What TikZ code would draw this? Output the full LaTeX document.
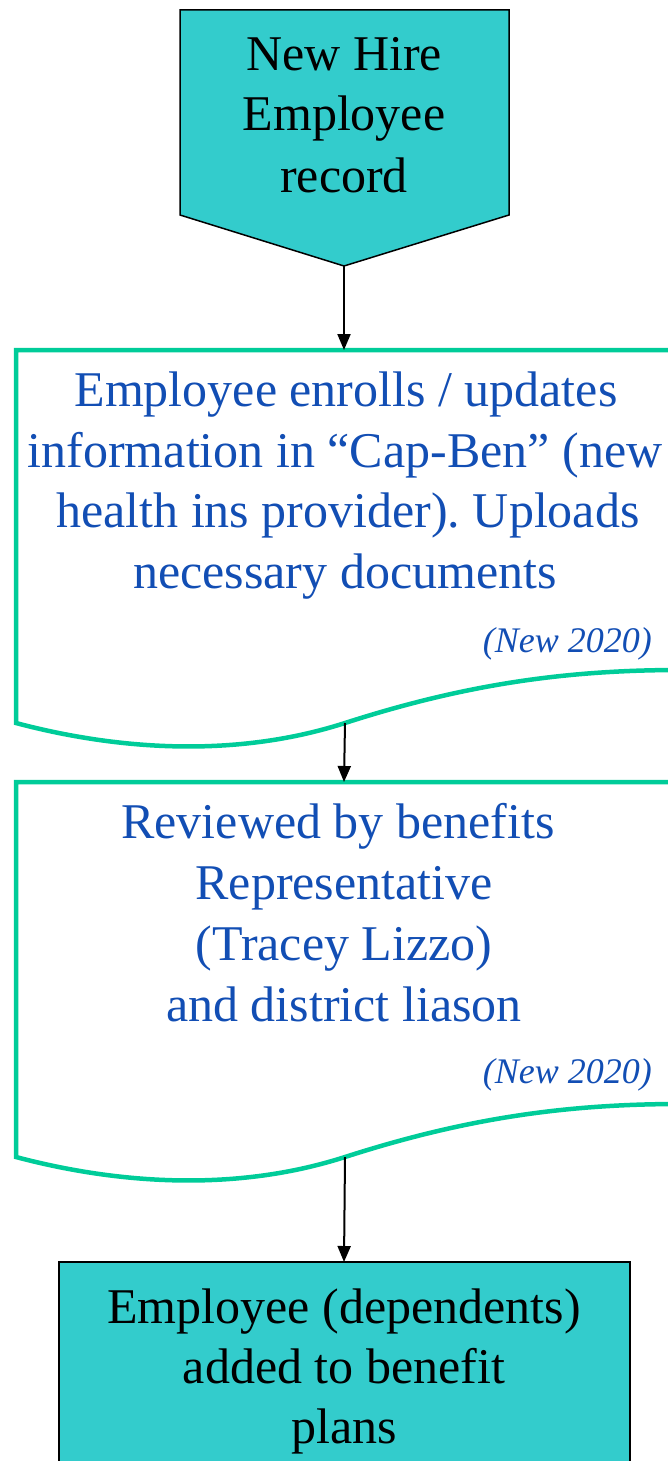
\documentclass[tikz,border=0pt]{standalone}
\usepackage{fontspec}
\setmainfont{Liberation Serif}
\frenchspacing
\usetikzlibrary{arrows.meta}
\definecolor{tealfill}{RGB}{51,204,204}
\definecolor{docgreen}{RGB}{0,204,153}
\definecolor{txtblue}{RGB}{18,78,180}
\begin{document}
\begin{tikzpicture}[x=1pt,y=-1pt,
  bigtext/.style={font=\fontsize{50}{60}\selectfont, anchor=base, inner sep=0pt},
  bluetext/.style={bigtext, text=txtblue},
  notetext/.style={font=\fontsize{36}{40}\selectfont\itshape, text=txtblue, anchor=base east, inner sep=0pt},
  tealshape/.style={fill=tealfill, draw=black, line width=1.5pt},
  docline/.style={draw=docgreen, line width=4.5pt},
  flow/.style={draw=black, line width=2pt, -{Triangle[length=16pt,width=13pt]}}]
\useasboundingbox (0,0) rectangle (667,1461);

% start pentagon
\draw[tealshape] (180,10) -- (509,10) -- (509,215) -- (344,266) -- (180,215) -- cycle;
\coordinate (penttip) at (344,266);
\node[bigtext] (n1a) at (344,71) {New Hire};
\node[bigtext] (n1b) at (344,131) {Employee};
\node[bigtext] (n1c) at (344,192) {record};

% document 1
\draw[docline] (680,350) -- (16,350) -- (16,723)
  .. controls (110,748) and (230,760) .. (345,723)
  .. controls (460,686) and (560,670) .. (680,670);
\coordinate (d1top) at (344,350);
\coordinate (d1bot) at (345,723);
\node[bluetext] (n2a) at (346,406) {Employee enrolls / updates};
\node[bluetext] (n2b) at (345,467) {information in “Cap-Ben” (new};
\node[bluetext] (n2c) at (348,527) {health ins provider). Uploads};
\node[bluetext] (n2d) at (345,588) {necessary documents};
\node[notetext] (n2e) at (652,652) {(New 2020)};

% document 2
\draw[docline] (680,782) -- (16,782) -- (16,1157)
  .. controls (110,1182) and (230,1194) .. (345,1157)
  .. controls (460,1120) and (560,1104) .. (680,1104);
\coordinate (d2top) at (344,782);
\coordinate (d2bot) at (345,1157);
\node[bluetext] (n3a) at (338,838) {Reviewed by benefits};
\node[bluetext] (n3b) at (344,899) {Representative};
\node[bluetext] (n3c) at (344,960) {(Tracey Lizzo)};
\node[bluetext] (n3d) at (344,1021) {and district liason};
\node[notetext] (n3e) at (652,1083) {(New 2020)};

% bottom box
\draw[tealshape] (59,1262) rectangle (630,1480);
\coordinate (boxtop) at (344,1262);
\node[bigtext] (n4a) at (344,1323) {Employee (dependents)};
\node[bigtext] (n4b) at (344,1383) {added to benefit};
\node[bigtext] (n4c) at (344,1443) {plans};

% connectors
\draw[flow] (penttip) -- (d1top);
\draw[flow] (d1bot) -- (d2top);
\draw[flow] (d2bot) -- (boxtop);
\end{tikzpicture}
\end{document}
